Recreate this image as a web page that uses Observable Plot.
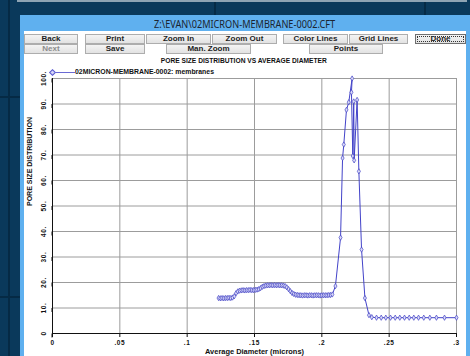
<!DOCTYPE html>
<html><head><meta charset="utf-8">
<script src="https://cdn.jsdelivr.net/npm/d3@7"></script>
<script src="https://cdn.jsdelivr.net/npm/@observablehq/plot@0.6"></script>
<style>
html,body{margin:0;padding:0;width:470px;height:356px;overflow:hidden;background:#0a395b;}
#root{position:relative;width:470px;height:356px;overflow:hidden;font-family:"Liberation Sans",Arial,sans-serif;}
.a{position:absolute;}
.btn{position:absolute;box-sizing:border-box;height:10px;background:linear-gradient(#f4f4f4,#e2e2e2);border:1px solid #adadad;font-weight:bold;font-size:8px;line-height:8px;text-align:center;color:#1e1e1e;}
.fit{display:inline-block;white-space:nowrap;}
</style></head>
<body>
<div id="root">
  <div class="a" style="left:8px;top:0;width:2px;height:356px;background:#052a45"></div>
  <div class="a" style="left:0;top:96px;width:20px;height:2px;background:#052a45"></div>
  <div class="a" style="left:0;top:296px;width:20px;height:2px;background:#052a45"></div>
  <div class="a" style="left:17px;top:0;width:450px;height:2px;background:#8ea4b4"></div>
  <div class="a" style="left:214px;top:2px;width:2px;height:13px;background:#052a45"></div>
  <div class="a" style="left:424px;top:2px;width:2px;height:13px;background:#052a45"></div>
  <div class="a" style="left:20px;top:15px;width:460px;height:350px;background:#5fb0ef"></div>
  <div class="a" style="left:24px;top:31px;width:442px;height:330px;background:#ffffff"></div>
  <div class="a" id="wtitle" style="left:0;top:17px;width:490px;text-align:center;font-family:'Noto Sans',sans-serif;font-size:11px;line-height:14px;color:#1b2430"><span class="fit">Z:\EVAN\02MICRON-MEMBRANE-0002.CFT</span></div>
  <div id="buttons"></div>
  <div class="a" id="ctitle" style="left:144px;top:56.5px;width:200px;text-align:center;font-weight:bold;font-size:8px;line-height:8px;color:#111"><span class="fit">PORE SIZE DISTRIBUTION VS AVERAGE DIAMETER</span></div>
  <div class="a" style="left:53px;top:72px;width:22px;height:1px;background:#6a6ad4"></div>
  <div class="a" style="left:50px;top:70px;width:3px;height:3px;border:1px solid #5a5ad0;background:#d6d6f8;transform:rotate(45deg)"></div>
  <div class="a" id="legend" style="left:75px;top:67.5px;font-weight:bold;font-size:8px;line-height:8px;color:#111"><span class="fit">02MICRON-MEMBRANE-0002: membranes</span></div>
  <div class="a" id="chart" style="left:0;top:64px;"></div>
</div>
<script>
const diameter = [
 0.1233,0.1246,0.1259,0.1272,0.1285,0.1298,0.1311,0.1324,0.1337,0.1350,
 0.1363,0.1376,0.1389,0.1402,0.1415,0.1428,0.1441,0.1454,0.1467,0.1480,
 0.1493,0.1506,0.1519,0.1532,0.1545,0.1558,0.1571,0.1584,0.1597,0.1610,
 0.1623,0.1636,0.1649,0.1662,0.1675,0.1688,0.1701,0.1714,0.1727,0.1740,
 0.1753,0.1766,0.1779,0.1792,0.1805,0.1818,0.1831,0.1844,0.1857,0.1870,
 0.1883,0.1896,0.1909,0.1922,0.1935,0.1948,0.1961,0.1974,0.1987,0.2000,
 0.2013,0.2026,0.2039,0.2052,0.2065,0.2078,0.2101,0.2139,0.2154,0.2163,
 0.2183,0.2200,0.2225,0.2220,0.2230,0.2237,0.2240,0.2262,0.2275,0.2295,
 0.2320,0.2350,0.2371,0.2406,0.2441,0.2475,0.2510,0.2545,0.2579,0.2614,
 0.2649,0.2683,0.2718,0.2757,0.2802,0.2851,0.2911,0.3000
];
const distribution = [
 13.9,13.8,13.9,13.8,13.9,13.9,14.0,13.9,14.1,14.6,
 15.8,16.5,16.8,16.9,17.0,16.9,17.0,17.0,17.1,17.0,
 17.0,17.1,17.2,17.4,17.8,18.3,18.6,18.8,18.9,18.9,
 19.0,18.9,19.0,18.9,19.0,18.9,18.9,18.8,18.6,18.1,
 17.4,16.6,15.9,15.5,15.2,15.1,15.0,15.0,14.9,15.0,
 15.0,14.9,15.0,15.0,14.9,15.0,15.0,15.0,14.9,15.0,
 15.0,15.0,15.0,15.1,15.1,15.3,18.6,37.6,68.8,74.1,
 87.7,90.7,100.0,94.6,69.6,91.0,67.9,91.6,63.6,32.9,
 13.9,7.2,6.4,6.2,6.2,6.2,6.2,6.2,6.2,6.2,
 6.2,6.2,6.2,6.2,6.2,6.2,6.2,6.2
];
const xTicks = [0,0.05,0.1,0.15,0.2,0.25,0.3];
const xTickLabels = ["0",".05",".1",".15",".2",".25",".3"];
const yTicks = [0,10,20,30,40,50,60,70,80,90,100];
const yTickLabels = ["0","10.","20.","30.","40.","50.","60.","70.","80.","90.","100."];
const buttonLabels = ["Back","Print","Zoom In","Zoom Out","Color Lines","Grid Lines","Done","Next","Save","Man. Zoom","Points"];

// window buttons (layout)
const btnBoxes = [[24,34,54],[85,34,60],[146,34,65],[212,34,65],[283,34,65],[349,34,59],[415,34,51],[24,44,54],[85,44,60],[166,44,85],[309,44,74]];
const bwrap = document.getElementById("buttons");
buttonLabels.forEach((t,i)=>{
  const [l,tp,w] = btnBoxes[i];
  const b = document.createElement("div");
  b.className = "btn";
  b.style.left = l+"px"; b.style.top = tp+"px"; b.style.width = w+"px";
  b.textContent = t;
  if (t === "Next") b.style.color = "#8c8c8c";
  if (t === "Done") { b.style.border = "1px solid #6f6f6f"; b.style.outline = "1px dotted #333"; b.style.outlineOffset = "-3px"; }
  bwrap.appendChild(b);
});

function fit(id, w, origin){
  const s = document.querySelector("#"+id+" .fit");
  const cw = s.getBoundingClientRect().width;
  s.style.transformOrigin = origin;
  s.style.transform = `scaleX(${w/cw})`;
}
fit("wtitle",181,"center");
fit("ctitle",166,"center");
fit("legend",139,"left");

const data = diameter.map((d,i)=>({d, v: distribution[i]}));
const font = "Liberation Sans, Arial, sans-serif";
const chart = Plot.plot({
  width: 470, height: 292,
  marginLeft: 52, marginRight: 14, marginTop: 14, marginBottom: 23,
  x: {domain: [0, 0.3]},
  y: {domain: [0, 100]},
  style: {background: "transparent", fontFamily: font, fontSize: "6.5px", fontWeight: "bold", color: "#111", overflow: "visible"},
  marks: [
    Plot.gridX(xTicks, {stroke: "#9c9c9c", strokeOpacity: 1}),
    Plot.gridY(yTicks, {stroke: "#9c9c9c", strokeOpacity: 1}),
    Plot.axisX(xTicks, {tickSize: 4, tickPadding: 3, tickFormat: (d)=>xTickLabels[xTicks.indexOf(d)], stroke: "#111", label: null, className: "xt"}),
    Plot.axisY(yTicks, {tickSize: 4, tickPadding: 5, tickFormat: (d)=>yTickLabels[yTicks.indexOf(d)], rotate: -90, textAnchor: "middle", stroke: "#111", label: null, className: "yt"}),
    Plot.ruleX([0], {stroke: "#111"}),
    Plot.ruleY([0], {stroke: "#111"}),
    Plot.line(data, {x: "d", y: "v", stroke: "#4343c9", strokeWidth: 1}),
    Plot.dot(data, {x: "d", y: "v", symbol: "diamond", r: 1.6, stroke: "#4040c4", fill: "#dcdcf8", strokeWidth: 0.7}),
    Plot.text(["PORE SIZE DISTRIBUTION"], {text: d=>d, frameAnchor: "left", rotate: -90, dx: -23, fontSize: 7.4, fontWeight: "bold", fill: "#111", className: "ytitle"}),
    Plot.text(["Average Diameter (microns)"], {text: d=>d, frameAnchor: "bottom", lineAnchor: "top", dy: 15.5, fontSize: 7.2, fontWeight: "bold", fill: "#111", className: "xtitle"})
  ]
});
document.getElementById("chart").appendChild(chart);
chart.querySelectorAll(".xt text, .yt text").forEach(t=>t.setAttribute("letter-spacing","0.6"));
const yt = chart.querySelector(".ytitle text"); if (yt) { yt.setAttribute("textLength","89"); yt.setAttribute("lengthAdjust","spacingAndGlyphs"); }
const xt = chart.querySelector(".xtitle text"); if (xt) { xt.setAttribute("textLength","99"); xt.setAttribute("lengthAdjust","spacingAndGlyphs"); }
</script>
</body></html>
